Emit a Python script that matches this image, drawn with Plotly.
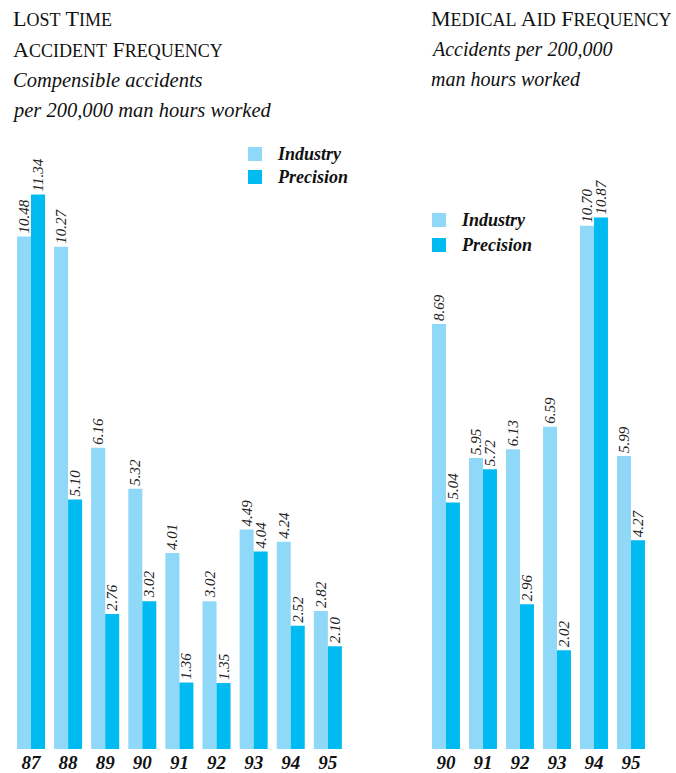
import plotly.graph_objects as go

W, H = 676, 773

# ---- data ----
years_lost = ["87", "88", "89", "90", "91", "92", "93", "94", "95"]
industry_lost = [10.48, 10.27, 6.16, 5.32, 4.01, 3.02, 4.49, 4.24, 2.82]
precision_lost = [11.34, 5.10, 2.76, 3.02, 1.36, 1.35, 4.04, 2.52, 2.10]

years_med = ["90", "91", "92", "93", "94", "95"]
industry_med = [8.69, 5.95, 6.13, 6.59, 10.70, 5.99]
precision_med = [5.04, 5.72, 2.96, 2.02, 10.87, 4.27]

C_IND = "#8FD8F7"
C_PRE = "#00BBF2"
SERIF = "Liberation Serif"


def px(x):
    return x / W


def py(y):
    return 1 - y / H


label_font = dict(family=SERIF, size=15, color="#222", style="italic")

fig = go.Figure()
for xs, ys, color, name, xa, ya in [
    (years_lost, industry_lost, C_IND, "Industry", "x", "y"),
    (years_lost, precision_lost, C_PRE, "Precision", "x", "y"),
    (years_med, industry_med, C_IND, "Industry", "x2", "y2"),
    (years_med, precision_med, C_PRE, "Precision", "x2", "y2"),
]:
    fig.add_trace(go.Bar(
        x=xs, y=ys, name=name, marker_color=color, marker_line_width=0,
        xaxis=xa, yaxis=ya, texttemplate="%{y:.2f}", textposition="outside",
        textangle=-90, textfont=label_font, constraintext="none",
        cliponaxis=False, showlegend=False,
    ))

ydom = [py(749), py(749 - 12 * 48.9)]
tickfont = dict(family=SERIF, size=19, color="#111", style="italic", weight="bold")
axis_common = dict(showgrid=False, zeroline=False, showline=False, ticks="",
                   tickfont=tickfont, type="category")
yaxis_common = dict(range=[0, 12], showgrid=False, zeroline=False,
                    showline=False, showticklabels=False, domain=ydom)

fig.update_layout(
    width=W, height=H,
    margin=dict(l=0, r=0, t=0, b=0),
    paper_bgcolor="white", plot_bgcolor="white",
    barmode="group", bargap=0.245, bargroupgap=0,
    xaxis=dict(domain=[px(12.45), px(346.4)], anchor="y", **axis_common),
    yaxis=dict(anchor="x", **yaxis_common),
    xaxis2=dict(domain=[px(427.5), px(649.5)], anchor="y2", **axis_common),
    yaxis2=dict(anchor="x2", **yaxis_common),
    showlegend=False,
)

anns = []


def add_text(text, x, yc, size, italic=False, bold=False):
    f = dict(family=SERIF, size=size, color="#111")
    if italic:
        f["style"] = "italic"
    if bold:
        f["weight"] = "bold"
    anns.append(dict(text=text, x=px(x), y=py(yc), xref="paper", yref="paper",
                     xanchor="left", yanchor="middle", showarrow=False, font=f))


def small_caps(text, small=18):
    out = []
    for word in text.split(" "):
        out.append(word[0] + "<span style='font-size:%dpx'>%s</span>" % (small, word[1:].upper()))
    return " ".join(out)


# Titles
add_text(small_caps("Lost Time"), 11, 19, 22)
add_text(small_caps("Accident Frequency"), 11, 50, 22)
add_text("Compensible accidents", 11, 81, 20.5, italic=True)
add_text("per 200,000 man hours worked", 10, 110, 20.5, italic=True)
add_text(small_caps("Medical Aid Frequency"), 429, 19, 22)
add_text("Accidents per 200,000", 429, 50, 20, italic=True)
add_text("man hours worked", 429, 79, 20, italic=True)

# Legends
shapes = []
for (sx, sy, color, label) in [
    (248, 147, C_IND, "Industry"), (248, 170, C_PRE, "Precision"),
    (432, 213, C_IND, "Industry"), (432, 238, C_PRE, "Precision"),
]:
    shapes.append(dict(type="rect", xref="paper", yref="paper",
                       x0=px(sx), x1=px(sx + 14), y0=py(sy), y1=py(sy + 14),
                       fillcolor=color, line=dict(width=0)))
    add_text(label, sx + 27, sy + 7, 18, italic=True, bold=True)

fig.update_layout(annotations=anns, shapes=shapes)
fig.write_html("out.html")
